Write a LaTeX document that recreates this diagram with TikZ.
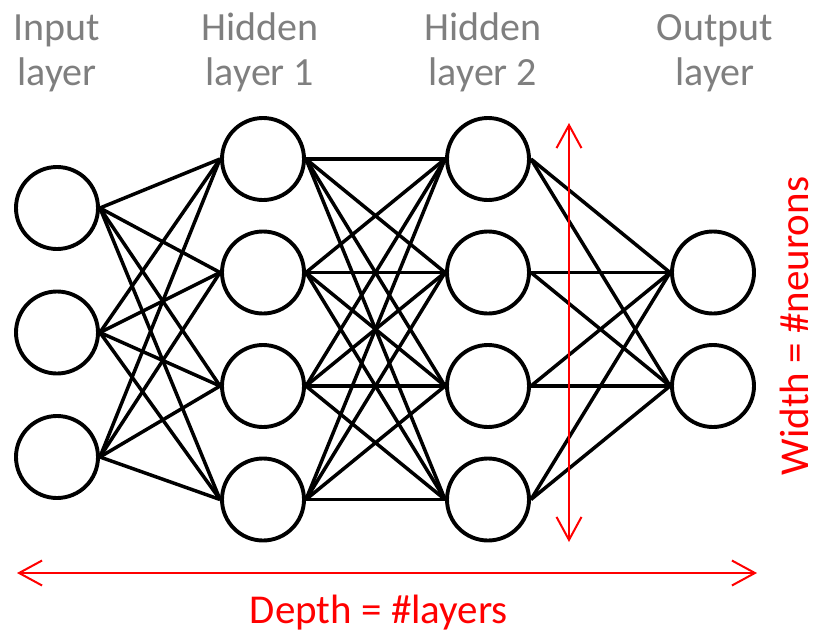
\documentclass[tikz,border=0pt]{standalone}
\usepackage{fontspec}
\setmainfont{Carlito}
\usetikzlibrary{arrows.meta}
\definecolor{labelgray}{RGB}{127,127,127}
\tikzset{
  neuron/.style={circle, draw=black, line width=3.9pt, minimum size=82pt, inner sep=0pt},
  link/.style={draw=black, line width=3.5pt},
  layerlabel/.style={text=labelgray, font=\fontsize{40}{45}\selectfont, align=center, anchor=base, inner sep=0pt},
  redlabel/.style={text=red, font=\fontsize{41}{45}\selectfont, anchor=base, inner sep=0pt},
  span/.style={draw=red, line width=2pt, {Straight Barb[length=23pt, width=25pt, line width=2pt]}-{Straight Barb[length=23pt, width=25pt, line width=2pt]}}
}
\begin{document}
\begin{tikzpicture}[x=1pt, y=-1pt]
  \useasboundingbox (0,0) rectangle (814,632);

  % layer captions (base anchor sits on the second line)
  \node[layerlabel] (capIn)  at (57,85)  {Input\\layer};
  \node[layerlabel] (capH1)  at (260,85) {Hidden\\layer 1};
  \node[layerlabel] (capH2)  at (483,85) {Hidden\\layer 2};
  \node[layerlabel] (capOut) at (715,85) {Output\\layer};

  % input layer
  \foreach \i/\y in {1/208, 2/332.5, 3/457}
    \node[neuron] (in\i) at (57,\y) {};
  % hidden layers
  \foreach \i/\y in {1/159, 2/272.5, 3/386, 4/499.5} {
    \node[neuron] (ha\i) at (263,\y) {};
    \node[neuron] (hb\i) at (488,\y) {};
  }
  % output layer
  \foreach \i/\y in {1/272.5, 2/386}
    \node[neuron] (out\i) at (713,\y) {};

  % fully connected links
  \foreach \i in {1,2,3}
    \foreach \j in {1,2,3,4}
      \draw[link] (in\i.east) -- (ha\j.west);
  \foreach \i in {1,2,3,4}
    \foreach \j in {1,2,3,4}
      \draw[link] (ha\i.east) -- (hb\j.west);
  \foreach \i in {1,2,3,4}
    \foreach \j in {1,2}
      \draw[link] (hb\i.east) -- (out\j.west);

  % width arrow
  \coordinate (wTop) at (569,123);
  \coordinate (wBot) at (569,542);
  \draw[span] (wTop) -- (wBot);
  \node[redlabel, rotate=90, text depth=0pt] (widthLbl) at (808,326) {Width = \#neurons};

  % depth arrow
  \coordinate (dLeft) at (17,573);
  \coordinate (dRight) at (757,573);
  \draw[span] (dLeft) -- (dRight);
  \node[redlabel] (depthLbl) at (379,623) {Depth = \#layers};
\end{tikzpicture}
\end{document}
